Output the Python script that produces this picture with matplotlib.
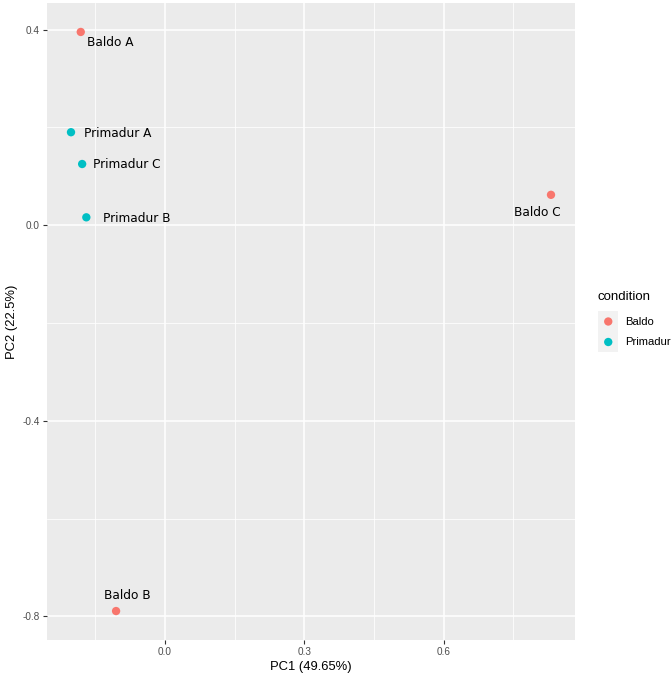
import matplotlib
matplotlib.use("Agg")
import matplotlib.pyplot as plt
import numpy as np

samples = ["Baldo A", "Primadur A", "Primadur C", "Primadur B", "Baldo C", "Baldo B"]
conditions = ["Baldo", "Primadur", "Primadur", "Primadur", "Baldo", "Baldo"]
pc1 = [-0.181, -0.202, -0.178, -0.169, 0.831, -0.105]
pc2 = [0.395, 0.190, 0.125, 0.016, 0.062, -0.789]
x_ticks = [0.0, 0.3, 0.6]
x_tick_labels = ["0.0", "0.3", "0.6"]
y_ticks = [0.4, 0.0, -0.4, -0.8]
y_tick_labels = ["0.4", "0.0", "-0.4", "-0.8"]
levels = ["Baldo", "Primadur"]
colors = {"Baldo": "#F8766D", "Primadur": "#00BFC4"}
x_label = "PC1 (49.65%)"
y_label = "PC2 (22.5%)"

# label offsets in pixels (repel-like placement), (dx, dy) with dy positive upward, ha
label_offsets = {
    "Baldo A": (29, -11, "center"),
    "Primadur A": (13, -1, "left"),
    "Primadur C": (11, 0, "left"),
    "Primadur B": (17, -1, "left"),
    "Baldo C": (-14, -18, "center"),
    "Baldo B": (11, 16, "center"),
}

W, H = 672, 678
dpi = 100
fig = plt.figure(figsize=(W / dpi, H / dpi), dpi=dpi)
fig.patch.set_facecolor("white")
L, R, T, B = 47, 575, 3, 640
ax = fig.add_axes([L / W, 1 - B / H, (R - L) / W, (B - T) / H])
ax.set_facecolor("#EBEBEB")

# limits with ggplot 5% expansion
xr = max(pc1) - min(pc1)
yr = max(pc2) - min(pc2)
ax.set_xlim(min(pc1) - 0.05 * xr, max(pc1) + 0.05 * xr)
ax.set_ylim(min(pc2) - 0.05 * yr, max(pc2) + 0.05 * yr)

ax.set_xticks(x_ticks)
ax.set_xticklabels(x_tick_labels)
ax.set_yticks(y_ticks)
ax.set_yticklabels(y_tick_labels)
ax.set_xticks([-0.15, 0.15, 0.45, 0.75], minor=True)
ax.set_yticks([0.2, -0.2, -0.6], minor=True)
ax.grid(True, which="major", color="white", linewidth=1.1)
ax.grid(True, which="minor", color="white", linewidth=0.55)
ax.set_axisbelow(True)
for s in ax.spines.values():
    s.set_visible(False)
ax.tick_params(which="major", length=2.7, width=0.8, color="#333333",
               labelcolor="#4D4D4D", labelsize=7.2, pad=2.5)
ax.tick_params(which="minor", length=0)
for lab in ax.get_xticklabels() + ax.get_yticklabels():
    lab.set_fontfamily("Liberation Sans")

ax.set_xlabel(x_label, fontsize=9.4, family="Liberation Sans", labelpad=3)
ax.set_ylabel(y_label, fontsize=9.4, family="Liberation Sans", labelpad=3)

for lev in levels:
    xs = [x for x, c in zip(pc1, conditions) if c == lev]
    ys = [y for y, c in zip(pc2, conditions) if c == lev]
    ax.scatter(xs, ys, s=36, color=colors[lev], edgecolors="none", zorder=3)

px2pt = 72 / dpi
for name, x, y in zip(samples, pc1, pc2):
    dx, dy, ha = label_offsets[name]
    ax.annotate(name, (x, y), xytext=(dx * px2pt, dy * px2pt), textcoords="offset points",
                ha=ha, va="center", fontsize=8.7, family="DejaVu Sans", color="black",
                zorder=4)

# legend
fig.text(597 / W, 1 - 297 / H, "condition", fontsize=9.5, family="Liberation Sans",
         va="center", ha="left")
for i, lev in enumerate(levels):
    yc = 321.5 + i * 20.5
    kax = fig.add_axes([598 / W, 1 - (yc + 10.25) / H, 20.5 / W, 20.5 / H])
    kax.set_facecolor("#F2F2F2")
    kax.set_xlim(0, 1)
    kax.set_ylim(0, 1)
    kax.set_xticks([])
    kax.set_yticks([])
    for s in kax.spines.values():
        s.set_visible(False)
    kax.scatter([0.5], [0.5], s=36, color=colors[lev], edgecolors="none")
    fig.text(625 / W, 1 - yc / H, lev, fontsize=8.1, family="Liberation Sans",
             va="center", ha="left")

fig.savefig("out.png", dpi=dpi)
